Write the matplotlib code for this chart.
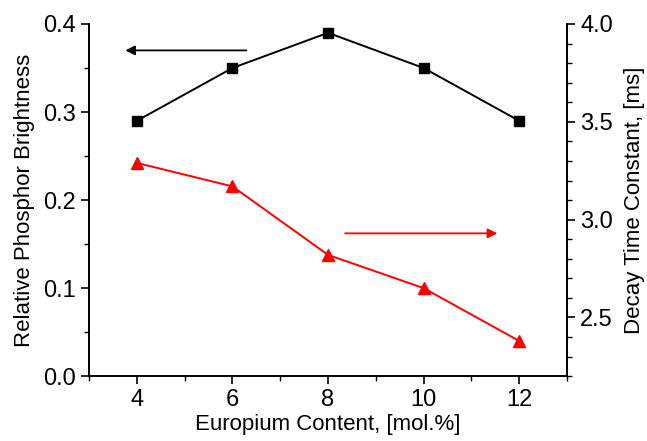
import matplotlib
matplotlib.use("Agg")
from matplotlib import pyplot as plt
from matplotlib.ticker import MultipleLocator

plt.rcParams['font.family'] = ['Liberation Sans', 'DejaVu Sans']

# data
europium = [4, 6, 8, 10, 12]
brightness = [0.29, 0.35, 0.39, 0.35, 0.29]
decay_time = [3.29, 3.17, 2.82, 2.65, 2.38]

fig = plt.figure(figsize=(6.47, 4.41), dpi=100)
ax = fig.add_axes([0.1376, 0.147, 0.7388, 0.7986])
ax2 = ax.twinx()

# brightness on left axis
ax.plot(europium, brightness, color='black', marker='s', markersize=7, linewidth=1.4)
ax.set_xlim(3, 13)
ax.set_ylim(0.0, 0.4)
ax.xaxis.set_major_locator(MultipleLocator(2))
ax.xaxis.set_minor_locator(MultipleLocator(1))
ax.yaxis.set_major_locator(MultipleLocator(0.1))
ax.yaxis.set_minor_locator(MultipleLocator(0.05))
ax.set_xlabel('Europium Content, [mol.%]', fontsize=16, labelpad=2)
ax.set_ylabel('Relative Phosphor Brightness', fontsize=16, labelpad=6)

# decay time on right axis
ax2.plot(europium, decay_time, color='red', marker='^', markersize=9, linewidth=1.4)
ax2.set_ylim(2.2, 4.0)
ax2.yaxis.set_major_locator(MultipleLocator(0.5))
ax2.yaxis.set_minor_locator(MultipleLocator(0.1))
ax2.set_ylabel('Decay Time Constant, [ms]', fontsize=16, labelpad=8)

for a in (ax, ax2):
    a.spines['top'].set_visible(False)
    a.tick_params(which='major', direction='out', length=6, width=1.2, labelsize=17)
    a.tick_params(which='minor', direction='out', length=3.5, width=1.0)
    for s in a.spines.values():
        s.set_linewidth(1.2)

# arrows pointing to each axis
ax.annotate('', xy=(3.7, 0.37), xytext=(6.35, 0.37),
            arrowprops=dict(arrowstyle='-|>', color='black', lw=1.3, mutation_scale=14))
ax2.annotate('', xy=(11.6, 2.93), xytext=(8.3, 2.93),
             arrowprops=dict(arrowstyle='-|>', color='red', lw=1.3, mutation_scale=14))

fig.savefig('out.png', dpi=100)
